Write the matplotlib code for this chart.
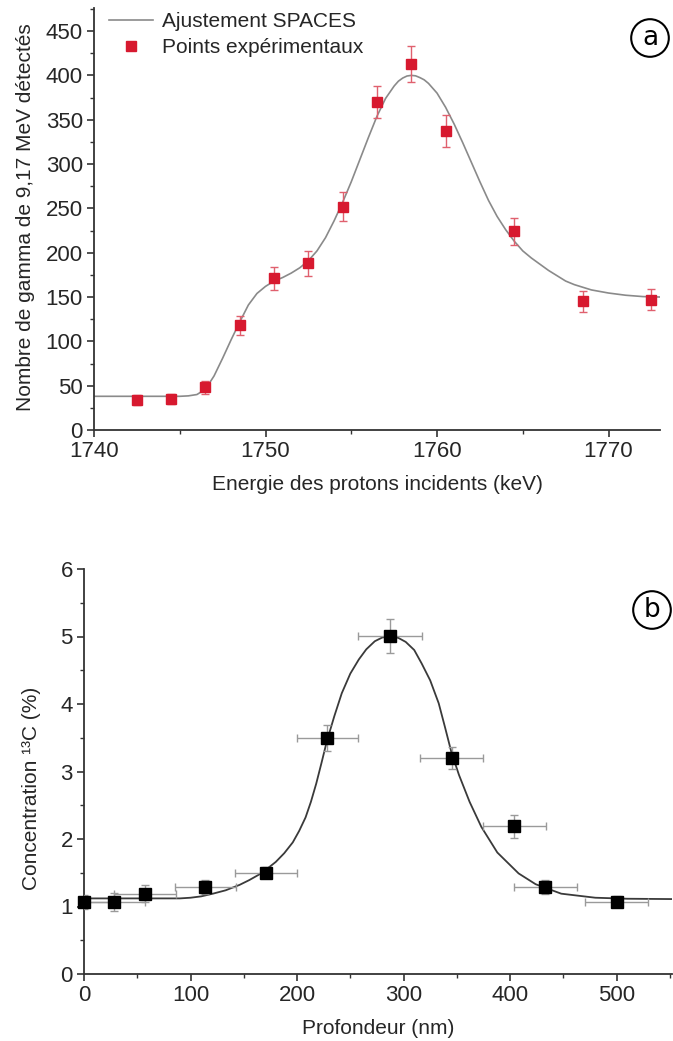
import matplotlib
matplotlib.use("Agg")
import matplotlib.pyplot as plt
from matplotlib.ticker import MultipleLocator
from matplotlib.lines import Line2D

plt.rcParams['font.family'] = ['Liberation Sans', 'DejaVu Sans']

# ---------------- Panel (a) data ----------------
energy_pts = [1742.5, 1744.5, 1746.5, 1748.5, 1750.5, 1752.5, 1754.5,
              1756.5, 1758.5, 1760.5, 1764.5, 1768.5, 1772.5]
counts_pts = [34, 35, 48, 118, 171, 188, 252, 370, 413, 337, 224, 145, 147]
counts_err = [6, 6, 7, 11, 13, 14, 16, 18, 20, 18, 15, 12, 12]

fit_a_x = [1740, 1741, 1742, 1743, 1744, 1745, 1745.5, 1746, 1746.5, 1747, 1747.5,
           1748, 1748.5, 1749, 1749.5, 1750, 1750.5, 1751, 1751.5, 1752, 1752.5,
           1753, 1753.5, 1754, 1754.5, 1755, 1755.5, 1756, 1756.5, 1757, 1757.5,
           1757.75, 1758, 1758.25, 1758.5, 1758.75, 1759, 1759.25, 1759.5, 1760,
           1760.5, 1761, 1761.5, 1762, 1762.5, 1763, 1763.5, 1764, 1764.5, 1765,
           1765.5, 1766, 1766.5, 1767, 1767.5, 1768, 1769, 1770, 1771, 1772, 1773]
fit_a_y = [38, 38, 38, 38, 38, 38, 38.5, 40, 46, 61, 81,
           102, 122, 141, 154, 162, 168, 172, 177, 183, 191,
           202, 217, 236, 257, 280, 305, 330, 354, 374, 388,
           393.5, 397, 399.3, 400, 399.5, 397.5, 395, 391, 380,
           364, 345, 324, 302, 280, 259, 241, 226, 213, 202,
           194, 187, 180, 174, 168, 164, 158, 154.5, 152, 150.5, 150]

# ---------------- Panel (b) data ----------------
depth_pts = [0, 28.5, 57, 114, 171, 228.5, 287, 345, 404, 433, 500]
conc_pts = [1.07, 1.07, 1.19, 1.29, 1.50, 3.50, 5.01, 3.20, 2.19, 1.29, 1.07]
conc_err = [0.1, 0.13, 0.13, 0.1, 0.08, 0.19, 0.25, 0.17, 0.17, 0.1, 0.08]
depth_err = [29, 29, 29, 29, 29, 29, 30, 30, 29.5, 29.5, 29.5]

fit_b_x = [0, 50, 90, 100, 110, 121, 133, 146, 155, 164, 172, 180, 188, 196,
           202, 208, 213, 218, 223, 228, 235, 242, 250, 258, 265, 273, 280,
           287, 295, 302, 310, 317, 325, 333, 339, 345, 352, 362, 373, 388,
           408, 424, 448, 480, 510, 552]
fit_b_y = [1.12, 1.12, 1.12, 1.13, 1.15, 1.19, 1.24, 1.32, 1.39, 1.47, 1.56,
           1.66, 1.79, 1.95, 2.12, 2.32, 2.55, 2.82, 3.13, 3.45, 3.82, 4.16,
           4.45, 4.66, 4.81, 4.93, 4.985, 5.00, 4.98, 4.92, 4.80, 4.60, 4.35,
           4.01, 3.65, 3.28, 2.95, 2.55, 2.18, 1.80, 1.49, 1.33, 1.19, 1.13,
           1.115, 1.11]

W, H = 673, 1041
fig = plt.figure(figsize=(W / 100, H / 100), dpi=100)

def frac_axes(left, right, top, bottom):
    return fig.add_axes([left / W, 1 - bottom / H, (right - left) / W, (bottom - top) / H])

axis_col = '#333333'
txt_col = '#262626'
FS = 15
TFS = 16

def style(ax):
    for s in ['top', 'right']:
        ax.spines[s].set_visible(False)
    for s in ['left', 'bottom']:
        ax.spines[s].set_color(axis_col)
        ax.spines[s].set_linewidth(1.3)
    ax.tick_params(which='major', direction='out', length=5, width=1.2,
                   colors=axis_col, labelsize=TFS, labelcolor=txt_col, pad=3)
    ax.tick_params(which='minor', direction='out', length=3, width=1.0, colors=axis_col)

# ----- panel a -----
axa = frac_axes(94, 660, 8, 430)
style(axa)
axa.plot(fit_a_x, fit_a_y, color='#8a8a8a', lw=1.2, zorder=2)
axa.errorbar(energy_pts, counts_pts, yerr=counts_err, fmt='s', color='#d7192f',
             ecolor='#e0606e', elinewidth=1.0, capsize=3, capthick=1.0,
             markersize=7, zorder=3)
axa.set_xlim(1740, 1773)
axa.set_ylim(0, 476)
axa.xaxis.set_major_locator(MultipleLocator(10))
axa.xaxis.set_minor_locator(MultipleLocator(5))
axa.set_yticks([0, 50, 100, 150, 200, 250, 300, 350, 400, 450])
axa.yaxis.set_minor_locator(MultipleLocator(25))

handles = [Line2D([], [], color='#8a8a8a', lw=1.2),
           Line2D([], [], color='#d7192f', marker='s', ls='none', markersize=7)]
fig.legend(handles, ['Ajustement SPACES', 'Points expérimentaux'],
           loc='upper left', bbox_to_anchor=(109 / W, 1 - 12 / H),
           frameon=False, fontsize=FS, handlelength=2.1, handletextpad=0.45,
           labelspacing=0.35, borderpad=0, borderaxespad=0, labelcolor=txt_col)

fig.text(26 / W, 1 - 217 / H, 'Nombre de gamma de 9,17 MeV détectés', rotation=90,
         ha='center', va='center', fontsize=FS, color=txt_col)
fig.text(377 / W, 1 - 485 / H, 'Energie des protons incidents (keV)',
         ha='center', va='center', fontsize=FS, color=txt_col)
fig.text(650 / W, 1 - 38 / H, 'a', ha='center', va='center', fontsize=19,
         family='DejaVu Sans',
         bbox=dict(boxstyle='circle,pad=0.22', fc='none', ec='black', lw=1.5))

# ----- panel b -----
axb = frac_axes(84, 672, 569, 974)
style(axb)
axb.plot(fit_b_x, fit_b_y, color='#3a3a3a', lw=1.3, zorder=2)
axb.errorbar(depth_pts, conc_pts, xerr=depth_err, yerr=conc_err, fmt='none',
             ecolor='#9a9a9a', elinewidth=1.0, capsize=3, capthick=1.0, zorder=3)
axb.plot(depth_pts, conc_pts, 's', color='black', markersize=8, zorder=4,
         clip_on=False)
axb.set_xlim(0, 552)
axb.set_ylim(0, 6)
axb.set_xticks([0, 100, 200, 300, 400, 500])
axb.xaxis.set_minor_locator(MultipleLocator(50))
axb.yaxis.set_major_locator(MultipleLocator(1))
axb.yaxis.set_minor_locator(MultipleLocator(0.5))

fig.text(32 / W, 1 - 788 / H, 'Concentration ¹³C (%)', rotation=90,
         ha='center', va='center', fontsize=FS, color=txt_col)
fig.text(378 / W, 1 - 1028 / H, 'Profondeur (nm)', ha='center', va='center',
         fontsize=FS, color=txt_col)
fig.text(652 / W, 1 - 610 / H, 'b', ha='center', va='center', fontsize=19,
         family='DejaVu Sans',
         bbox=dict(boxstyle='circle,pad=0.22', fc='none', ec='black', lw=1.5))

fig.savefig('out.png', dpi=100)
